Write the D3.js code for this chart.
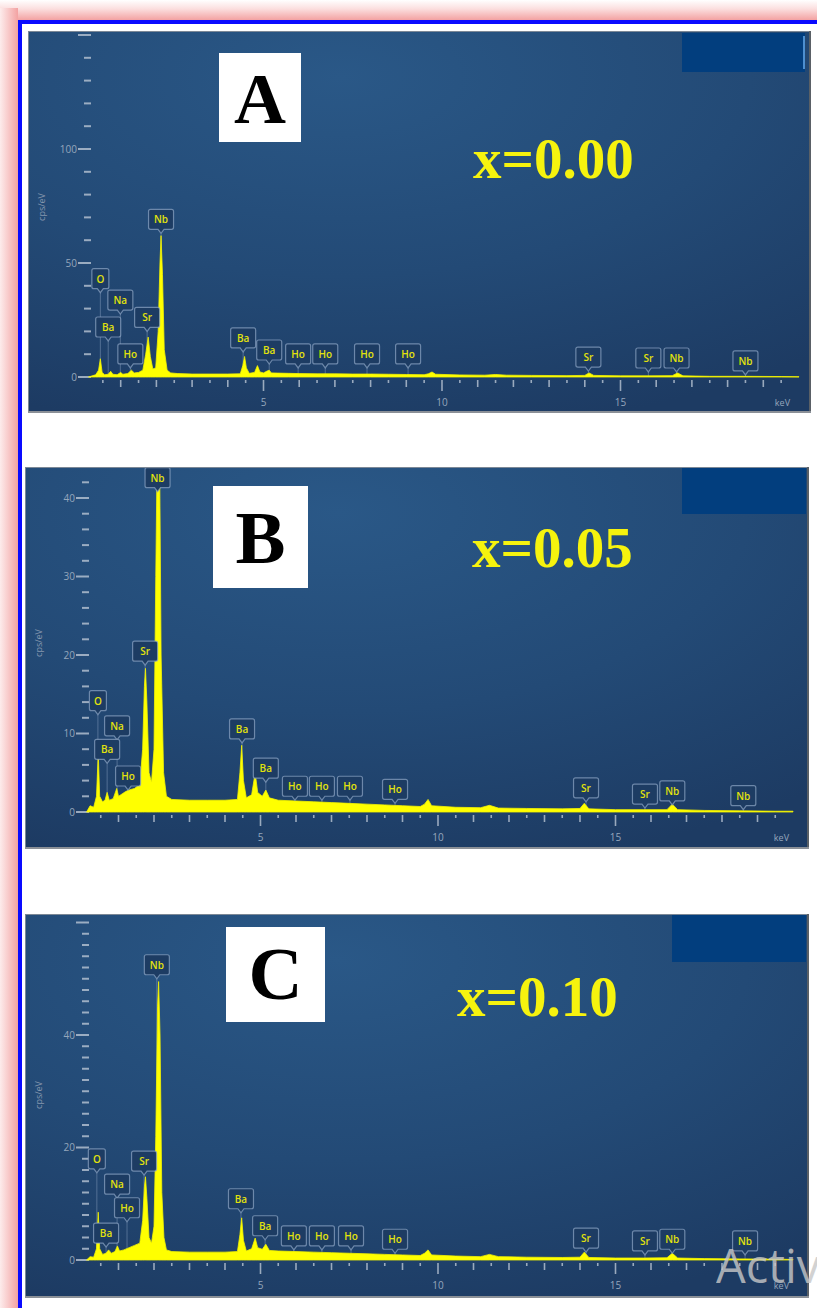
<!DOCTYPE html>
<html>
<head>
<meta charset="utf-8">
<script src="https://cdn.jsdelivr.net/npm/d3@7"></script>
<style>
  body { margin: 0; background: #fff; }
  svg { display: block; }
</style>
</head>
<body>
<div id="chart"></div>
<script>
// ---- data ----
var panelLetters = ["A", "B", "C"];
var compositions = ["x=0.00", "x=0.05", "x=0.10"];

// y tick marks (cps/eV): labelled ticks, minor step, last minor tick
var yLabelTicksA = [0, 50, 100], yMinorStepA = 10, yTickMaxA = 150;
var yLabelTicksB = [0, 10, 20, 30, 40], yMinorStepB = 2, yTickMaxB = 42;
var yLabelTicksC = [0, 20, 40], yMinorStepC = 2, yTickMaxC = 60;
var xLabelTicks = [5, 10, 15];

// spectra: [keV, cps/eV]
var spectrumA = [[0.1,0],[0.2,0.5],[0.3,1],[0.38,3],[0.43,8],[0.48,2],[0.55,1],[0.65,1.2],[0.72,2.5],[0.78,1.2],[0.9,1],[1.0,2],[1.06,1.2],[1.2,1.5],[1.3,3],[1.38,1.8],[1.5,2],[1.62,3],[1.7,10],[1.77,17.5],[1.83,9],[1.9,3.5],[1.98,4],[2.05,20],[2.1,50],[2.13,62],[2.17,45],[2.22,12],[2.3,3],[2.4,1.8],[2.6,1.5],[3.0,1.3],[3.5,1.3],[4.0,1.3],[4.35,1.4],[4.42,5],[4.47,9],[4.52,4],[4.6,1.6],[4.75,2],[4.83,5],[4.9,2.2],[5.0,1.8],[5.1,2.6],[5.16,3],[5.22,1.8],[5.4,1.7],[5.7,1.6],[6.0,1.5],[6.5,1.4],[7.0,1.4],[7.5,1.3],[8.0,1.3],[8.5,1.2],[9.0,1.1],[9.5,1.0],[9.62,1.4],[9.72,2.2],[9.82,1.2],[10.5,0.9],[11.2,0.8],[11.5,1.1],[11.8,0.8],[12.5,0.7],[13.5,0.6],[14.0,0.7],[14.12,1.8],[14.25,0.7],[15.0,0.5],[15.8,0.5],[16.45,0.6],[16.6,1.8],[16.75,0.5],[17.5,0.3],[18.5,0.3],[19.5,0.2],[20,0.1]];
var spectrumB = [[0.1,0],[0.2,0.8],[0.3,0.6],[0.38,2],[0.43,7.5],[0.47,2],[0.55,1.3],[0.62,1.5],[0.68,2.5],[0.74,1.5],[0.85,1.7],[0.95,3],[1.0,2],[1.1,2.3],[1.2,2.6],[1.3,2.8],[1.45,3],[1.6,3.5],[1.68,8],[1.73,16],[1.76,18.3],[1.8,14],[1.86,5],[1.93,3.8],[2.0,8],[2.05,30],[2.1,50],[2.15,50],[2.2,20],[2.27,5],[2.35,2],[2.5,1.6],[3.0,1.5],[3.5,1.5],[4.0,1.5],[4.35,1.6],[4.42,5],[4.47,8.5],[4.52,4],[4.6,1.8],[4.75,2.2],[4.85,5],[4.92,2.5],[5.05,2],[5.15,2.8],[5.25,1.8],[5.5,1.5],[6.0,1.4],[6.5,1.3],[7.0,1.2],[7.5,1.1],[8.0,1.0],[8.5,0.9],[9.0,0.8],[9.5,0.7],[9.62,1.0],[9.72,1.6],[9.82,0.8],[10.5,0.6],[11.2,0.55],[11.45,0.85],[11.7,0.5],[12.5,0.45],[13.5,0.4],[14.0,0.45],[14.12,1.1],[14.25,0.4],[15.0,0.3],[15.8,0.3],[16.45,0.3],[16.6,1.0],[16.75,0.3],[17.5,0.2],[18.5,0.15],[19.5,0.1],[20,0.1]];
var spectrumC = [[0.1,0],[0.2,0.6],[0.3,0.5],[0.38,2],[0.43,8.5],[0.47,2],[0.55,1],[0.65,1.2],[0.72,1.8],[0.8,1.2],[0.9,1.5],[0.97,2.5],[1.03,1.6],[1.15,1.8],[1.3,2.2],[1.45,2.6],[1.6,3],[1.68,7],[1.73,13],[1.76,14.8],[1.8,11],[1.86,4],[1.93,3],[2.0,6],[2.05,22],[2.1,45],[2.13,49.5],[2.17,40],[2.22,12],[2.28,4],[2.35,1.8],[2.5,1.5],[3.0,1.4],[3.5,1.4],[4.0,1.4],[4.35,1.5],[4.42,4.5],[4.47,7.5],[4.52,3.5],[4.6,1.6],[4.75,2],[4.85,3.9],[4.92,2.2],[5.05,1.9],[5.15,2.8],[5.25,1.7],[5.5,1.6],[6.0,1.5],[6.5,1.4],[7.0,1.3],[7.5,1.2],[8.0,1.1],[8.5,1.0],[9.0,0.9],[9.5,0.8],[9.62,1.2],[9.72,1.8],[9.82,0.9],[10.5,0.7],[11.2,0.6],[11.45,1.0],[11.7,0.6],[12.5,0.5],[13.5,0.45],[14.0,0.5],[14.12,1.4],[14.25,0.45],[15.0,0.35],[15.8,0.35],[16.45,0.4],[16.6,1.2],[16.75,0.35],[17.5,0.25],[18.5,0.2],[19.5,0.15],[20,0.1]];

// element markers: name, energy (keV) and the cps level the marker points to
var markerElements = ["O","Na","Ba","Ho","Sr","Nb","Ba","Ba","Ho","Ho","Ho","Ho","Sr","Sr","Nb","Nb"];
var markerKeVA = [0.43,0.99,0.65,1.27,1.74,2.13,4.43,5.16,5.97,6.73,7.9,9.05,14.1,15.78,16.57,18.5];
var markerKeVB = [0.42,0.96,0.68,1.27,1.75,2.1,4.48,5.15,5.97,6.73,7.52,8.79,14.17,15.83,16.6,18.6];
var markerKeVC = [0.39,0.96,0.65,1.24,1.72,2.08,4.45,5.13,5.94,6.73,7.55,8.79,14.17,15.83,16.6,18.65];
var markerLevelA = [37,27.6,15.8,4,20,63,11,5.7,4,4,4,4,2.6,2.2,2.2,0.9];
var markerLevelB = [12.4,9.2,6.2,2.8,18.7,40.8,8.8,3.8,1.5,1.5,1.5,1.1,1.3,0.5,0.9,0.3];
var markerLevelC = [15.5,11,2.3,6.8,15.1,50,8.4,3.6,1.8,1.8,1.8,1.2,1.4,0.9,1.2,0.9];

// ---- layout ----
var W = 817, H = 1308;
var panels = [
  { box: [28, 31, 810, 412], xr: [85, 799], yd: 100, yr: [377, 149], spec: spectrumA,
    labels: yLabelTicksA, minor: yMinorStepA, tmax: yTickMaxA, major: 50,
    mKeV: markerKeVA, mLev: markerLevelA, tab: [682, 33, 123, 39],
    letterBox: [219, 53, 82, 89], letterSize: 72, letterY: 123, textX: 473, textY: 178, titleY: 207, keVx: 790 },
  { box: [25, 467, 808, 848], xr: [83, 793], yd: 40, yr: [812, 498], spec: spectrumB,
    labels: yLabelTicksB, minor: yMinorStepB, tmax: yTickMaxB, major: 10,
    mKeV: markerKeVB, mLev: markerLevelB, tab: [682, 467, 124, 47],
    letterBox: [213, 486, 95, 102], letterSize: 75, letterY: 563, textX: 472, textY: 567, titleY: 643, keVx: 789 },
  { box: [25, 914, 808, 1297], xr: [83, 793], yd: 40, yr: [1260, 1035], spec: spectrumC,
    labels: yLabelTicksC, minor: yMinorStepC, tmax: yTickMaxC, major: 20,
    mKeV: markerKeVC, mLev: markerLevelC, tab: [672, 914, 134, 48],
    letterBox: [226, 927, 99, 95], letterSize: 75, letterY: 999, textX: 457, textY: 1016, titleY: 1095, keVx: 789 }
];

var svg = d3.select("#chart").append("svg")
    .attr("width", W).attr("height", H);

var defs = svg.append("defs");
var bg = defs.append("radialGradient").attr("id", "panelBg")
    .attr("cx", "0.4").attr("cy", "0.12").attr("r", "0.95");
bg.append("stop").attr("offset", "0").attr("stop-color", "#2a5887");
bg.append("stop").attr("offset", "0.55").attr("stop-color", "#234a76");
bg.append("stop").attr("offset", "1").attr("stop-color", "#1d3b63");

var pinkL = defs.append("linearGradient").attr("id", "pinkL");
pinkL.append("stop").attr("offset", "0").attr("stop-color", "#fdecec");
pinkL.append("stop").attr("offset", "1").attr("stop-color", "#f3a2a2");
var pinkT = defs.append("linearGradient").attr("id", "pinkT")
    .attr("x1", 0).attr("y1", 0).attr("x2", 0).attr("y2", 1);
pinkT.append("stop").attr("offset", "0").attr("stop-color", "#ffffff");
pinkT.append("stop").attr("offset", "0.45").attr("stop-color", "#fbdede");
pinkT.append("stop").attr("offset", "1").attr("stop-color", "#f3a2a2");

svg.append("rect").attr("width", W).attr("height", H).attr("fill", "#fff");

// outer frame: pink glow and blue rule
svg.append("rect").attr("x", 0).attr("y", 0).attr("width", W).attr("height", 20).attr("fill", "url(#pinkT)");
svg.append("rect").attr("x", 0).attr("y", 8).attr("width", 18).attr("height", H).attr("fill", "url(#pinkL)");
svg.append("rect").attr("x", 18).attr("y", 20).attr("width", W - 18).attr("height", 4).attr("fill", "#0a0aff");
svg.append("rect").attr("x", 18).attr("y", 20).attr("width", 4).attr("height", H).attr("fill", "#0a0aff");

var area = function (x, y) {
    return d3.area()
        .x(function (d) { return x(d[0]); })
        .y0(y(0))
        .y1(function (d) { return y(d[1]); });
};

panels.forEach(function (p, k) {
    var bx = p.box[0], by = p.box[1], bw = p.box[2] - p.box[0], bh = p.box[3] - p.box[1];
    var x = d3.scaleLinear().domain([0, 20]).range(p.xr);
    var y = d3.scaleLinear().domain([0, p.yd]).range(p.yr);

    defs.append("clipPath").attr("id", "clip" + k)
        .append("rect").attr("x", bx).attr("y", by).attr("width", bw).attr("height", bh);

    var g = svg.append("g");
    g.append("rect").attr("x", bx).attr("y", by).attr("width", bw).attr("height", bh)
        .attr("fill", "url(#panelBg)");

    var c = g.append("g").attr("clip-path", "url(#clip" + k + ")");

    // blue tab at top right
    c.append("rect").attr("x", p.tab[0]).attr("y", p.tab[1]).attr("width", p.tab[2]).attr("height", p.tab[3])
        .attr("fill", "#023e7e");
    if (k === 0) {
        c.append("rect").attr("x", p.tab[0] + p.tab[2] - 2).attr("y", p.tab[1] + 3)
            .attr("width", 2).attr("height", p.tab[3] - 6).attr("fill", "#4d8fd0");
    }

    // y ticks
    var minorTicks = d3.range(0, p.tmax + 0.001, p.minor);
    c.selectAll(".ytick").data(minorTicks).enter().append("line")
        .attr("x1", function (d) { return d % p.major === 0 ? p.xr[0] - 7 : p.xr[0] - 1; })
        .attr("x2", p.xr[0] + 6)
        .attr("y1", function (d) { return y(d); })
        .attr("y2", function (d) { return y(d); })
        .attr("stroke", "#b9c5d4").attr("stroke-width", 2).attr("opacity", 0.8);
    c.selectAll(".ylab").data(p.labels).enter().append("text")
        .attr("x", p.xr[0] - 8)
        .attr("y", function (d) { return y(d) + 3.5; })
        .attr("text-anchor", "end")
        .attr("font-family", "Open Sans, sans-serif").attr("font-size", 10)
        .attr("fill", "#95a6bc")
        .text(function (d) { return d; });
    c.append("text")
        .attr("transform", "translate(" + (bx + 17) + "," + p.titleY + ")rotate(-90)")
        .attr("text-anchor", "middle")
        .attr("font-family", "Open Sans, sans-serif").attr("font-size", 9)
        .attr("fill", "#8597ae")
        .text("cps/eV");

    // x ticks
    var xTicks = d3.range(0.5, 19.51, 0.5);
    c.selectAll(".xtick").data(xTicks).enter().append("line")
        .attr("x1", function (d) { return x(d); })
        .attr("x2", function (d) { return x(d); })
        .attr("y1", y(0) + 3)
        .attr("y2", function (d) {
            if (d % 5 === 0) return y(0) + 14;
            if (d % 1 === 0) return y(0) + 10;
            return y(0) + 6;
        })
        .attr("stroke", "#b9c5d4").attr("stroke-width", 1.6).attr("opacity", 0.8);
    c.selectAll(".xlab").data(xLabelTicks).enter().append("text")
        .attr("x", function (d) { return x(d); })
        .attr("y", y(0) + 29)
        .attr("text-anchor", "middle")
        .attr("font-family", "Open Sans, sans-serif").attr("font-size", 10)
        .attr("fill", "#95a6bc")
        .text(function (d) { return d; });
    c.append("text")
        .attr("x", p.keVx).attr("y", y(0) + 29)
        .attr("text-anchor", "end")
        .attr("font-family", "Open Sans, sans-serif").attr("font-size", 9)
        .attr("fill", "#95a6bc")
        .text("keV");

    // marker stems under the spectrum
    var markers = markerElements.map(function (name, i) {
        return { name: name, keV: p.mKeV[i], level: p.mLev[i] };
    });
    c.selectAll(".stem").data(markers).enter().append("line")
        .attr("x1", function (d) { return x(d.keV); })
        .attr("x2", function (d) { return x(d.keV); })
        .attr("y1", function (d) { return y(d.level); })
        .attr("y2", y(0))
        .attr("stroke", "#9fb4d0").attr("stroke-width", 0.8).attr("opacity", 0.5);

    // spectrum
    c.append("path").datum(p.spec)
        .attr("d", area(x, y))
        .attr("fill", "#ffff00")
        .attr("stroke", "#f4f400").attr("stroke-width", 0.8);

    // element markers
    var mg = c.selectAll(".marker").data(markers).enter().append("g");
    mg.append("path")
        .attr("d", function (d) {
            var cx = x(d.keV), tip = y(d.level);
            var w = d.name.length === 1 ? 17 : 25, h = 20, r = 2;
            var b = tip - 4, t = b - h, l = cx - w / 2, rt = cx + w / 2;
            return "M" + (l + r) + "," + t + "H" + (rt - r) + "Q" + rt + "," + t + " " + rt + "," + (t + r) +
                "V" + (b - r) + "Q" + rt + "," + b + " " + (rt - r) + "," + b +
                "H" + (cx + 3) + "L" + cx + "," + tip + "L" + (cx - 3) + "," + b +
                "H" + (l + r) + "Q" + l + "," + b + " " + l + "," + (b - r) +
                "V" + (t + r) + "Q" + l + "," + t + " " + (l + r) + "," + t + "Z";
        })
        .attr("fill", "#1d3c63")
        .attr("stroke", "#8ea6c6").attr("stroke-opacity", 0.7).attr("stroke-width", 1.2);
    mg.append("text")
        .attr("x", function (d) { return x(d.keV); })
        .attr("y", function (d) { return y(d.level) - 4 - 6; })
        .attr("text-anchor", "middle")
        .attr("font-family", "Open Sans, sans-serif").attr("font-size", 10).attr("font-weight", 600)
        .attr("fill", "#e2e20c")
        .text(function (d) { return d.name; });

    // panel letter and composition
    var lb = p.letterBox;
    c.append("rect").attr("x", lb[0]).attr("y", lb[1]).attr("width", lb[2]).attr("height", lb[3])
        .attr("fill", "#ffffff");
    c.append("text")
        .attr("x", lb[0] + lb[2] / 2).attr("y", p.letterY)
        .attr("text-anchor", "middle")
        .attr("font-family", "Liberation Serif, serif").attr("font-weight", "bold")
        .attr("font-size", p.letterSize).attr("fill", "#000")
        .text(panelLetters[k]);
    c.append("text")
        .attr("x", p.textX).attr("y", p.textY)
        .attr("font-family", "Liberation Serif, serif").attr("font-weight", "bold")
        .attr("font-size", 57).attr("fill", "#f6f30e")
        .text(compositions[k]);

    // border with shadowed right/bottom edge
    g.append("rect").attr("x", bx + 0.5).attr("y", by + 0.5).attr("width", bw - 1).attr("height", bh - 1)
        .attr("fill", "none").attr("stroke", "#7c8896").attr("stroke-width", 1);
    g.append("line").attr("x1", bx + bw).attr("x2", bx + bw).attr("y1", by).attr("y2", by + bh + 1)
        .attr("stroke", "#5a6066").attr("stroke-width", 2);
    g.append("line").attr("x1", bx).attr("x2", bx + bw + 1).attr("y1", by + bh).attr("y2", by + bh)
        .attr("stroke", "#8b9097").attr("stroke-width", 2);
});

// desktop watermark bleeding into the lower right corner
svg.append("text")
    .attr("x", 716).attr("y", 1283)
    .attr("font-family", "Open Sans, sans-serif").attr("font-size", 47)
    .attr("fill", "#c8c8c8").attr("opacity", 0.8)
    .text("Activate Windows");
</script>
</body>
</html>
